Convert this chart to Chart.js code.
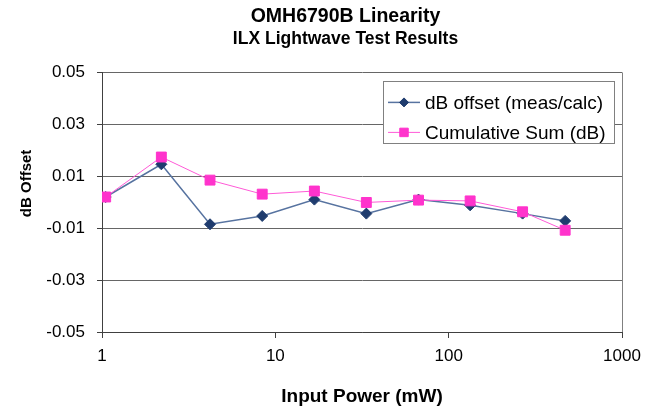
<!DOCTYPE html>
<html>
<head>
<meta charset="utf-8">
<script src="https://cdn.jsdelivr.net/npm/chart.js@4/dist/chart.umd.min.js"></script>
<style>
  html, body { margin: 0; padding: 0; background: #ffffff; }
  #wrap { width: 657px; height: 408px; position: relative; }
</style>
</head>
<body>
<div id="wrap"><canvas id="c" width="657" height="408"></canvas></div>
<script>
// ---- data ----
const inputPower    = [1.05, 2.2, 4.2, 8.4, 16.8, 33.5, 67, 133, 267, 470];
const dbOffset      = [0.002, 0.0146, -0.0085, -0.0053, 0.001, -0.0044, 0.001, -0.0012, -0.0044, -0.0072];
const cumulativeSum = [0.002, 0.0174, 0.0085, 0.0031, 0.0043, -0.0001, 0.0008, 0.0005, -0.0037, -0.0108];
const xTickValues   = [1, 10, 100, 1000];
const yTickValues   = [-0.05, -0.03, -0.01, 0.01, 0.03, 0.05];
const seriesNames   = ['dB offset (meas/calc)', 'Cumulative Sum (dB)'];
const titleText     = 'OMH6790B Linearity';
const subtitleText  = 'ILX Lightwave Test Results';
const xTitleText    = 'Input Power (mW)';
const yTitleText    = 'dB Offset';

const FONT = "'Liberation Sans', Arial, Helvetica, sans-serif";
const BLUE_LINE = '#5773A0', BLUE_MARK = '#1F3C6E';
const PINK_LINE = '#FF5AD7', PINK_MARK = '#FF33CC';

const toPoints = (xs, ys) => xs.map((x, i) => ({ x: x, y: ys[i] }));

const datasets = [
  {
    label: seriesNames[0],
    data: toPoints(inputPower, dbOffset),
    borderColor: BLUE_LINE, borderWidth: 1.5,
    backgroundColor: BLUE_MARK,
    pointStyle: 'rectRot', pointRadius: 5.5,
    pointBackgroundColor: BLUE_MARK, pointBorderColor: BLUE_MARK, pointBorderWidth: 1,
    tension: 0, order: 1
  },
  {
    label: seriesNames[1],
    data: toPoints(inputPower, cumulativeSum),
    borderColor: PINK_LINE, borderWidth: 1,
    backgroundColor: PINK_MARK,
    pointStyle: 'rect', pointRadius: 7,
    pointBackgroundColor: PINK_MARK, pointBorderColor: PINK_MARK, pointBorderWidth: 1,
    tension: 0, order: 0
  }
];

// move the title block so it is centred where the reference has it
const shiftTitles = {
  id: 'shiftTitles',
  beforeDraw(chart) {
    const dx = 17;
    const blocks = [];
    if (chart.titleBlock) blocks.push(chart.titleBlock);
    (chart.boxes || []).forEach(b => {
      if (b && b !== chart.titleBlock && b !== chart.legend && b.options &&
          typeof b.options.text === 'string' && b.options.text === subtitleText) blocks.push(b);
    });
    blocks.forEach(b => { b.left = dx; b.right = chart.width + dx; });
  }
};

// right border of the plot area
const plotBorder = {
  id: 'plotBorder',
  beforeDatasetsDraw(chart) {
    const { ctx, chartArea: a } = chart;
    ctx.save();
    ctx.strokeStyle = '#808080';
    ctx.lineWidth = 1;
    ctx.beginPath();
    const xr = Math.round(a.right) + 0.5;
    ctx.moveTo(xr, a.top);
    ctx.lineTo(xr, a.bottom);
    ctx.stroke();
    ctx.restore();
  }
};

// vertical axis title, placed where the reference has it
const yAxisTitle = {
  id: 'yAxisTitle',
  afterDraw(chart) {
    const { ctx, chartArea: a } = chart;
    ctx.save();
    ctx.translate(27, a.top + 111);
    ctx.rotate(-Math.PI / 2);
    ctx.font = 'bold 15px ' + FONT;
    ctx.fillStyle = '#000000';
    ctx.textAlign = 'center';
    ctx.textBaseline = 'middle';
    ctx.fillText(yTitleText, 0, 0);
    ctx.restore();
  }
};

// boxed legend inside the plot area (top right)
const boxLegend = {
  id: 'boxLegend',
  afterDatasetsDraw(chart) {
    const { ctx, chartArea: a } = chart;
    const bx = a.left + 281, by = a.top + 9, bw = 231, bh = 62;
    ctx.save();
    ctx.fillStyle = '#ffffff';
    ctx.fillRect(bx, by, bw, bh);
    ctx.strokeStyle = '#808080';
    ctx.lineWidth = 1;
    ctx.strokeRect(Math.round(bx) + 0.5, Math.round(by) + 0.5, bw, bh);
    ctx.font = '19px ' + FONT;
    ctx.textBaseline = 'middle';
    ctx.textAlign = 'left';
    chart.data.datasets.forEach((ds, i) => {
      const y = by + 21 + i * 30;
      ctx.strokeStyle = ds.borderColor;
      ctx.lineWidth = ds.borderWidth;
      ctx.beginPath();
      ctx.moveTo(bx + 5, y);
      ctx.lineTo(bx + 37, y);
      ctx.stroke();
      ctx.fillStyle = ds.pointBackgroundColor;
      ctx.strokeStyle = ds.pointBorderColor;
      ctx.lineWidth = ds.pointBorderWidth;
      if (Chart.helpers && Chart.helpers.drawPoint) {
        Chart.helpers.drawPoint(ctx, { pointStyle: ds.pointStyle, radius: ds.pointRadius - 1, rotation: 0, borderWidth: ds.pointBorderWidth }, bx + 21, y);
      }
      ctx.fillStyle = '#000000';
      ctx.fillText(ds.label, bx + 42, y + 1);
    });
    ctx.restore();
  }
};

new Chart(document.getElementById('c'), {
  type: 'line',
  data: { datasets: datasets },
  options: {
    responsive: false,
    animation: false,
    devicePixelRatio: 1,
    layout: { padding: { left: 0, right: 35, top: 0, bottom: 0 } },
    plugins: {
      legend: { display: false },
      tooltip: { enabled: false },
      title: {
        display: true, text: titleText, color: '#000000',
        font: { family: FONT, size: 19.5, weight: 'bold' },
        padding: { top: 5, bottom: 0 }
      },
      subtitle: {
        display: true, text: subtitleText, color: '#000000',
        font: { family: FONT, size: 17.5, weight: 'bold' },
        padding: { top: 0, bottom: 23 }
      }
    },
    scales: {
      x: {
        type: 'logarithmic', min: 1, max: 1000,
        afterBuildTicks: s => { s.ticks = xTickValues.map(v => ({ value: v })); },
        afterFit: s => { s.height = 76; },
        ticks: {
          callback: v => String(v), color: '#000000',
          font: { family: FONT, size: 17 }, padding: 8,
          maxRotation: 0, autoSkip: false
        },
        grid: { drawOnChartArea: false, drawTicks: true, tickLength: 6, color: '#404040', tickColor: '#404040' },
        border: { display: true, color: '#404040', width: 1 },
        title: {
          display: true, text: xTitleText, color: '#000000',
          font: { family: FONT, size: 19, weight: 'bold' },
          padding: { top: 2, bottom: 0 }
        }
      },
      y: {
        type: 'linear', min: -0.05, max: 0.05,
        afterBuildTicks: s => { s.ticks = yTickValues.map(v => ({ value: v })); },
        afterFit: s => { s.width = 102; },
        ticks: {
          callback: v => Number(v).toFixed(2), color: '#000000',
          font: { family: FONT, size: 17 }, padding: 12
        },
        grid: { drawOnChartArea: true, drawTicks: true, tickLength: 5, color: '#666666', tickColor: '#404040' },
        border: { display: true, color: '#404040', width: 1 },
        title: { display: false, text: yTitleText }
      }
    }
  },
  plugins: [shiftTitles, plotBorder, boxLegend, yAxisTitle]
});
</script>
</body>
</html>
